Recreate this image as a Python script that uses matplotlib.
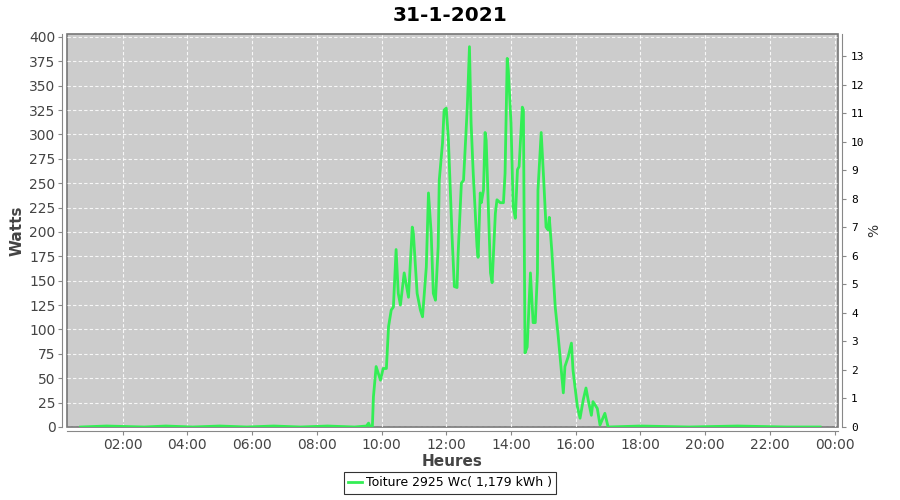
import numpy as np
import matplotlib.pyplot as plt
from matplotlib.ticker import MultipleLocator

# production readings for 31-1-2021 (time, watts)
times = ["00:42", "01:30", "02:40", "03:20", "04:10", "05:00", "05:50", "06:40",
         "07:30", "08:20", "09:10", "09:32", "09:36", "09:39",
         "09:43", "09:45", "09:50", "09:58", "10:03", "10:09", "10:13", "10:18",
         "10:22", "10:27", "10:31", "10:35", "10:42", "10:50", "10:57", "10:59",
         "11:06", "11:12", "11:16", "11:23", "11:27", "11:32", "11:36", "11:40",
         "11:45", "11:47", "11:53", "11:56", "12:00", "12:04", "12:11", "12:15",
         "12:20", "12:22", "12:28", "12:32", "12:39", "12:43", "12:46", "12:50",
         "12:57", "12:59", "13:03", "13:05", "13:09", "13:12", "13:14", "13:18",
         "13:22", "13:25", "13:31", "13:34", "13:40", "13:46", "13:49", "13:53",
         "13:55", "14:00", "14:04", "14:08", "14:12", "14:15", "14:21", "14:23",
         "14:26", "14:30", "14:36", "14:41", "14:45", "14:49", "14:50", "14:56",
         "15:00", "15:05", "15:09", "15:11", "15:16", "15:22", "15:27", "15:31",
         "15:37", "15:40", "15:46", "15:52", "15:55", "16:03", "16:08", "16:14",
         "16:19", "16:23", "16:29", "16:32", "16:40", "16:45", "16:54", "17:00",
         "18:00", "19:30", "21:00", "22:30", "23:33"]
watts = [0, 1, 0, 1, 0, 1, 0, 1,
         0, 1, 0, 1, 4, 0,
         0, 31, 62, 48, 60, 60, 103, 120,
         123, 182, 137, 125, 158, 133, 205, 199,
         137, 120, 113, 164, 240, 199, 137, 130,
         185, 253, 291, 325, 327, 294, 192, 144,
         143, 178, 250, 253, 328, 390, 312, 260,
         185, 174, 240, 230, 243, 302, 294, 226,
         158, 148, 219, 233, 230, 230, 260, 378,
         366, 312, 226, 214, 264, 267, 328, 325,
         76, 82, 158, 107, 107, 158, 243, 302,
         260, 205, 202, 215, 178, 123, 96, 72,
         35, 62, 72, 86, 58, 21, 9, 28,
         40, 28, 12, 26, 19, 2, 14, 0,
         1, 0, 1, 0, 0]

peak_wc = 2925
legend_label = "Toiture 2925 Wc( 1,179 kWh )"


def to_hours(t):
    h, m = t.split(":")
    return int(h) + int(m) / 60


hours = np.array([to_hours(t) for t in times])

fig = plt.figure(figsize=(9, 5), dpi=100)
ax = fig.add_axes([0.074, 0.146, 0.857, 0.786])
ax.set_facecolor('#cccccc')
ax.patch.set_edgecolor('#777777')
ax.patch.set_linewidth(1.2)

ax.plot(hours, watts, color='#33ee55', linewidth=2.0, zorder=3)

ax.set_xlim(0.27, 24.1)
ax.set_ylim(0, 403)
ax.yaxis.set_major_locator(MultipleLocator(25))
xt = np.arange(2, 25, 2)
ax.set_xticks(xt)
ax.set_xticklabels([f"{int(h) % 24:02d}:00" for h in xt])
ax.grid(True, color='white', linestyle=(0, (3, 2)), linewidth=0.8, alpha=0.85)
ax.set_axisbelow(True)

for s in ['top', 'right']:
    ax.spines[s].set_visible(False)
for s in ['left', 'bottom']:
    ax.spines[s].set_position(('outward', 3))
    ax.spines[s].set_color('#888888')
ax.tick_params(colors='#444444', labelsize=10, length=3, color='#888888')
ax.tick_params(axis='x', pad=2)
ax.tick_params(axis='y', pad=2)

ax.set_ylabel('Watts', fontsize=11, fontweight='bold', color='#444444', labelpad=3)
ax.set_xlabel('Heures', fontsize=11, fontweight='bold', color='#444444', labelpad=1)

ax2 = ax.twinx()
ax2.set_ylim(0, 403 / peak_wc * 100)
ax2.yaxis.set_major_locator(MultipleLocator(1))
for s in ['top', 'left', 'bottom']:
    ax2.spines[s].set_visible(False)
ax2.spines['right'].set_position(('outward', 3))
ax2.spines['right'].set_color('#888888')
ax2.tick_params(labelsize=8, length=3, color='#888888', labelcolor='black')
for lbl in ax2.get_yticklabels():
    lbl.set_family('DejaVu Sans Mono')
ax2.set_ylabel('%', fontsize=10, color='#333333', labelpad=2)

fig.suptitle('31-1-2021', fontsize=14.5, fontweight='bold', y=0.988)

line = ax.get_lines()[0]
leg = fig.legend([line], [legend_label], loc='lower center', bbox_to_anchor=(0.5, 0.0),
                 frameon=True, fancybox=False, edgecolor='black', fontsize=9,
                 handlelength=1.1, handletextpad=0.3, borderpad=0.35)
leg.get_frame().set_linewidth(0.8)

fig.savefig('out.png')
